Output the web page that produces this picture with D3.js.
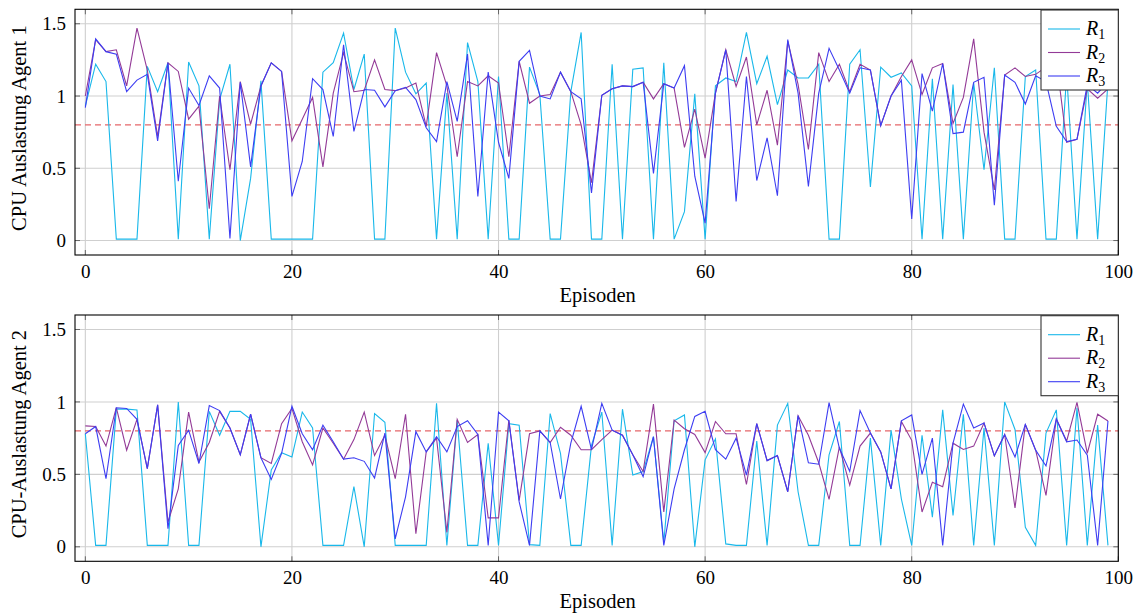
<!DOCTYPE html>
<html>
<head>
<meta charset="utf-8">
<script src="https://cdn.jsdelivr.net/npm/d3@7"></script>
<style>
  html, body { margin: 0; padding: 0; background: #fff; }
  svg { display: block; }
  text { font-family: "Liberation Serif", "Times New Roman", serif; fill: #000; }
</style>
</head>
<body>
<svg id="chart" width="1137" height="613"></svg>
<script>
// Episode ticks and value ticks
const xTicks = [0, 20, 40, 60, 80, 100];
const yTicks = [0, 0.5, 1, 1.5];
const yTickLabels = ["0", "0.5", "1", "1.5"];
const threshold = 0.8;
const seriesNames = ["1", "2", "3"];

// Agent 1 CPU load per episode
const agent1R1 = [0.93,1.22,1.10,0.01,0.01,0.01,1.205,1.03,1.23,0.01,1.235,1.07,0.01,0.975,1.22,0.0,0.43,1.105,0.01,0.01,
  0.01,0.01,0.01,1.165,1.23,1.435,1.045,1.29,0.01,0.01,1.47,1.165,1.015,1.09,0.01,1.02,0.01,1.37,1.10,0.01,
  1.135,0.01,0.01,1.20,1.01,0.01,0.01,1.03,1.44,0.01,0.01,1.22,0.01,1.185,1.195,0.01,1.23,0.01,0.20,1.015,
  0.01,1.07,1.125,1.10,1.44,1.085,1.275,0.94,1.18,1.125,1.125,1.22,0.01,0.01,1.22,1.32,0.37,1.20,1.13,1.16,
  1.07,0.01,1.12,0.01,1.08,0.01,1.09,0.49,1.195,0.01,0.01,1.135,1.18,0.01,0.01,1.15,0.01,1.10,0.01,1.10];
const agent1R2 = [1.0,1.39,1.307,1.32,1.07,1.47,1.18,0.72,1.23,1.17,0.84,0.93,0.22,1.0,0.49,1.10,0.805,1.07,1.23,1.17,
  0.69,0.84,0.99,0.51,1.02,1.30,1.03,1.04,1.25,1.045,1.037,1.055,1.09,0.79,1.30,1.07,0.58,1.10,1.07,1.14,
  1.09,0.58,1.24,0.95,1.0,1.01,1.165,1.03,0.80,0.40,1.005,1.05,1.07,1.065,1.095,0.98,1.085,1.055,0.645,0.91,
  0.57,1.02,1.32,1.067,1.27,0.80,1.04,0.66,1.38,1.08,0.63,1.30,1.10,1.22,1.03,1.22,1.18,0.795,1.0,1.135,
  1.25,1.01,1.195,1.225,0.81,0.99,1.395,0.75,0.35,1.145,1.195,1.135,1.15,1.20,1.25,0.68,0.70,1.05,0.985,1.05];
const agent1R3 = [0.92,1.395,1.307,1.29,1.03,1.11,1.15,0.69,1.23,0.41,1.055,0.935,1.14,1.055,0.015,1.095,0.51,1.07,1.23,1.17,
  0.305,0.547,1.12,1.045,0.72,1.355,0.755,1.045,1.04,0.925,1.037,1.06,0.975,0.78,0.685,1.10,0.825,1.29,0.305,1.165,
  0.68,0.43,1.24,1.315,1.0,0.98,1.165,1.03,0.98,0.33,1.005,1.05,1.07,1.065,1.095,0.465,1.085,1.055,1.21,0.445,
  0.12,1.02,1.32,0.27,1.135,0.415,0.71,0.31,1.39,1.02,0.375,1.02,1.33,1.18,1.02,1.195,1.18,0.795,1.0,1.11,
  0.15,1.155,0.895,1.225,0.74,0.75,1.095,1.13,0.245,1.145,1.095,0.945,1.14,1.10,0.79,0.685,0.70,1.08,1.02,1.10];

// Agent 2 CPU load per episode
const agent2R1 = [0.78,0.01,0.01,0.95,0.95,0.945,0.01,0.01,0.01,1.0,0.01,0.01,0.935,0.77,0.935,0.935,0.88,0.0,0.53,0.65,
  0.62,0.93,0.82,0.01,0.01,0.01,0.415,0.0,0.92,0.86,0.01,0.01,0.01,0.01,0.99,0.01,0.875,0.01,0.01,0.715,
  0.01,0.85,0.84,0.015,0.01,0.92,0.645,0.01,0.01,0.70,0.93,0.01,0.95,0.495,0.52,0.76,0.03,0.87,0.91,0.0,
  0.60,0.745,0.02,0.01,0.01,0.73,0.01,0.84,0.99,0.38,0.01,0.01,0.635,0.865,0.01,0.01,0.75,0.01,0.805,0.33,
  0.01,0.77,0.205,0.945,0.217,0.915,0.01,0.82,0.01,1.0,0.81,0.135,0.01,0.785,0.945,0.01,0.96,0.01,0.84,0.01];
const agent2R2 = [0.835,0.83,0.695,0.96,0.667,0.88,0.54,0.98,0.17,0.40,0.93,0.585,0.72,0.935,0.82,0.635,0.915,0.615,0.575,0.85,
  0.955,0.725,0.565,0.82,0.715,0.605,0.74,0.93,0.63,0.77,0.47,0.915,0.09,0.655,0.75,0.10,0.88,0.72,0.775,0.20,
  0.20,0.875,0.32,0.78,0.80,0.72,0.825,0.77,0.67,0.67,0.74,0.805,0.77,0.635,0.52,0.985,0.24,0.875,0.815,0.775,
  0.65,0.865,0.78,0.78,0.43,0.85,0.595,0.63,0.38,0.905,0.77,0.58,0.328,0.69,0.425,0.695,0.785,0.655,0.40,0.865,
  0.735,0.24,0.445,0.415,0.715,0.672,0.695,0.855,0.628,0.775,0.268,0.845,0.667,0.355,0.882,0.73,0.997,0.645,0.915,0.868];
const agent2R3 = [0.78,0.83,0.47,0.96,0.955,0.88,0.54,0.98,0.125,0.70,0.805,0.575,0.975,0.94,0.82,0.635,0.915,0.615,0.465,0.645,
  0.97,0.78,0.67,0.84,0.725,0.605,0.615,0.59,0.475,0.785,0.055,0.345,0.795,0.655,0.76,0.655,0.83,0.87,0.775,0.01,
  0.93,0.87,0.31,0.01,0.80,0.72,0.33,0.715,0.97,0.67,0.99,0.805,0.77,0.635,0.485,0.76,0.01,0.40,0.67,0.90,
  0.935,0.67,0.605,0.75,0.495,0.85,0.595,0.63,0.38,0.905,0.58,0.57,0.995,0.68,0.52,0.94,0.785,0.655,0.40,0.87,
  0.91,0.50,0.75,0.01,0.715,0.985,0.82,0.855,0.628,0.775,0.62,0.845,0.667,0.558,0.882,0.725,0.737,0.633,0.01,0.868];

const colors = ["#19b8ea", "#933a97", "#3d3df2"];

const svg = d3.select("#chart");
const left = 75, right = 1118.3;

function drawPanel(top, bottom, series, yLabel) {
  const x = d3.scaleLinear().domain([-1, 100]).range([left, right]);
  const y = d3.scaleLinear().domain([-0.1, 1.6]).range([bottom, top]);
  const g = svg.append("g");

  // grid
  g.selectAll(".vgrid").data(xTicks).enter().append("line")
    .attr("x1", d => x(d)).attr("x2", d => x(d))
    .attr("y1", top).attr("y2", bottom)
    .attr("stroke", "#cfcfcf").attr("stroke-width", 1.1);
  g.selectAll(".hgrid").data(yTicks).enter().append("line")
    .attr("x1", left).attr("x2", right)
    .attr("y1", d => y(d)).attr("y2", d => y(d))
    .attr("stroke", "#cfcfcf").attr("stroke-width", 1.1);

  // tick marks (inward, on all four sides)
  const tl = 5;
  xTicks.forEach(t => {
    g.append("line").attr("x1", x(t)).attr("x2", x(t)).attr("y1", bottom).attr("y2", bottom - tl)
      .attr("stroke", "#666").attr("stroke-width", 1);
    g.append("line").attr("x1", x(t)).attr("x2", x(t)).attr("y1", top).attr("y2", top + tl)
      .attr("stroke", "#666").attr("stroke-width", 1);
  });
  yTicks.forEach(t => {
    g.append("line").attr("x1", left).attr("x2", left + tl).attr("y1", y(t)).attr("y2", y(t))
      .attr("stroke", "#666").attr("stroke-width", 1);
    g.append("line").attr("x1", right).attr("x2", right - tl).attr("y1", y(t)).attr("y2", y(t))
      .attr("stroke", "#666").attr("stroke-width", 1);
  });

  // threshold
  g.append("line")
    .attr("x1", left).attr("x2", right)
    .attr("y1", y(threshold)).attr("y2", y(threshold))
    .attr("stroke", "#e5676b").attr("stroke-width", 1.1)
    .attr("stroke-dasharray", "6,4");

  // series
  const line = d3.line().x((d, i) => x(i)).y(d => y(d));
  series.forEach((s, k) => {
    g.append("path").datum(s)
      .attr("d", line)
      .attr("fill", "none")
      .attr("stroke", colors[k])
      .attr("stroke-width", 1.1)
      .attr("stroke-linejoin", "miter");
  });

  // axes labels via d3 axes
  const xAxis = d3.axisBottom(x).tickValues(xTicks).tickSize(0).tickPadding(6).tickFormat(d3.format("d"));
  const xa = g.append("g").attr("transform", `translate(0,${bottom})`).call(xAxis);
  xa.select(".domain").remove();
  xa.selectAll("text").attr("font-size", 19).attr("dy", "0.88em");

  const yAxis = d3.axisLeft(y).tickValues(yTicks).tickSize(0).tickPadding(9)
    .tickFormat((d, i) => yTickLabels[i]);
  const ya = g.append("g").attr("transform", `translate(${left},0)`).call(yAxis);
  ya.select(".domain").remove();
  ya.selectAll("text").attr("font-size", 19);

  // frame
  g.append("rect").attr("x", left).attr("y", top)
    .attr("width", right - left).attr("height", bottom - top)
    .attr("fill", "none").attr("stroke", "#000").attr("stroke-width", 1.1);

  // axis titles
  g.append("text").attr("x", (left + right) / 2 + 1).attr("y", bottom + 47)
    .attr("text-anchor", "middle").attr("font-size", 20.5).text("Episoden");
  g.append("text")
    .attr("transform", `translate(26,${(top + bottom) / 2 - 4}) rotate(-90)`)
    .attr("text-anchor", "middle").attr("font-size", 20.5).text(yLabel);

  // legend
  const lx = 1041, lw = right - lx, ly = top + 0.7, lh = 80;
  const lg = g.append("g");
  lg.append("rect").attr("x", lx).attr("y", ly).attr("width", lw).attr("height", lh)
    .attr("fill", "#fff").attr("stroke", "#333").attr("stroke-width", 1.1);
  seriesNames.forEach((n, k) => {
    const yy = ly + 19 + k * 23.5;
    lg.append("line").attr("x1", lx + 7).attr("x2", lx + 39).attr("y1", yy).attr("y2", yy)
      .attr("stroke", colors[k]).attr("stroke-width", 1.1);
    const t = lg.append("text").attr("x", lx + 45).attr("y", yy + 6).attr("font-size", 20);
    t.append("tspan").attr("font-style", "italic").text("R");
    t.append("tspan").attr("font-size", 14).attr("dy", 4).text(n);
  });
}

drawPanel(9.3, 255, [agent1R1, agent1R2, agent1R3], "CPU Auslastung Agent 1");
drawPanel(315, 561.3, [agent2R1, agent2R2, agent2R3], "CPU-Auslastung Agent 2");
</script>
</body>
</html>
